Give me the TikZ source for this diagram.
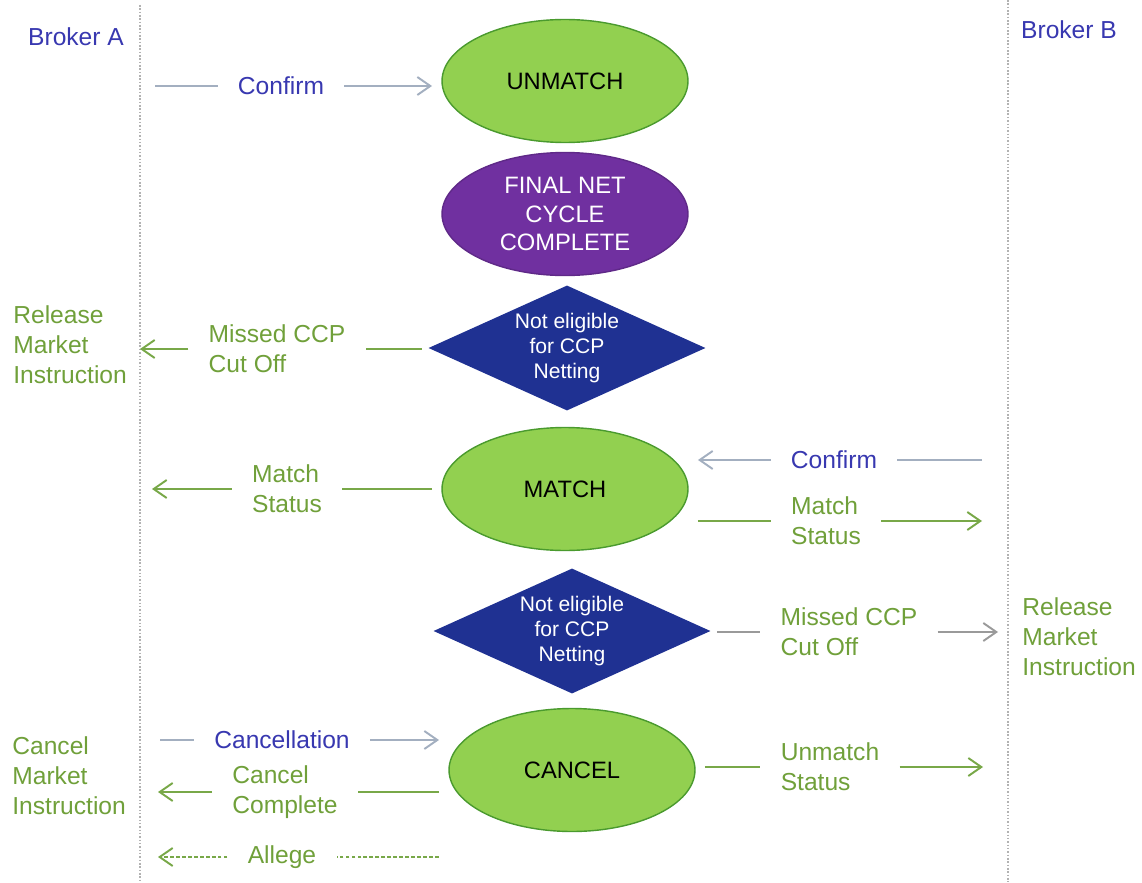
\documentclass[tikz,border=0pt]{standalone}
\usepackage{fontspec}
\setmainfont{Liberation Sans}
\usetikzlibrary{shapes.geometric,arrows.meta}
\definecolor{okgreen}{HTML}{92D050}
\definecolor{okborder}{HTML}{4A9A2E}
\definecolor{netpurple}{HTML}{7030A0}
\definecolor{ccpblue}{HTML}{1F3192}
\definecolor{msgblue}{HTML}{3838B0}
\definecolor{msggreen}{HTML}{70A03A}
\definecolor{linegreen}{HTML}{78A848}
\definecolor{lineblue}{HTML}{A3AFC0}
\definecolor{linegray}{HTML}{9A9A9A}
\tikzset{
  state/.style={ellipse, draw=okborder, fill=okgreen, line width=0.8pt, minimum width=4.92cm, minimum height=2.46cm, inner sep=0pt, outer sep=0.2cm, font=\fontsize{13.5}{16.2}\selectfont, align=center},
  ccp/.style={diamond, aspect=2.2, fill=ccpblue, text=white, minimum width=5.62cm, minimum height=2.58cm, inner sep=0pt, outer sep=0.1cm, font=\fontsize{12}{14}\selectfont, align=center},
  msg/.style={inner xsep=0.4cm, inner ysep=0pt, align=left, font=\fontsize{14}{17}\selectfont},
  side/.style={anchor=west, inner sep=0pt, align=left, text=msggreen, font=\fontsize{14}{17}\selectfont},
  bline/.style={draw=lineblue, line width=1.1pt},
  gline/.style={draw=linegreen, line width=1.1pt},
  grline/.style={draw=linegray, line width=1.1pt},
  sepline/.style={draw=gray!60, densely dotted, line width=0.9pt}
}
\begin{document}
\begin{tikzpicture}[x=0.02cm, y=-0.02cm, >={Straight Barb[length=2.6mm,width=3.6mm]}]
\useasboundingbox (0,0) rectangle (1142,882);
\draw[sepline] (140,5) -- (140,882);
\draw[sepline] (1008,0) -- (1008,882);
\node[msg, text=msgblue] (brokA) at (76,37) {Broker A};
\node[msg, text=msgblue] (brokB) at (1069,30) {Broker B};

\node[state] (unmatch) at (565,81) {UNMATCH};
\node[state, fill=netpurple, draw=netpurple!85!black, text=white] (netdone) at (565,214) {FINAL NET\\CYCLE\\COMPLETE};
\node[ccp] (noccpA) at (567,348) {Not eligible\\for CCP\\Netting};
\node[state] (match) at (565,489) {MATCH};
\node[ccp] (noccpB) at (572,631) {Not eligible\\for CCP\\Netting};
\node[state] (cancel) at (572,770) {CANCEL};

\node[side] (relA) at (13,345) {Release\\Market\\Instruction};
\node[side] (cxlA) at (12,776) {Cancel\\Market\\Instruction};
\node[side] (relB) at (1022,637) {Release\\Market\\Instruction};

\coordinate (cfA) at (155,86);
\node[msg, text=msgblue] (lConfA) at (281,86) {Confirm};
\draw[bline] (cfA) -- (lConfA.west);
\draw[bline,->] (lConfA.east) -- (lConfA -| unmatch.west);

\coordinate (cutA) at (140,349);
\node[msg, text=msggreen] (lMissA) at (277,349) {Missed CCP\\Cut Off};
\draw[gline] (noccpA.west |- lMissA) -- (lMissA.east);
\draw[gline,->] (lMissA.west) -- (cutA);

\coordinate (mtA) at (152,489);
\node[msg, text=msggreen] (lMatchA) at (287,489) {Match\\Status};
\draw[gline] (match.west) -- (lMatchA.east);
\draw[gline,->] (lMatchA.west) -- (mtA);

\coordinate (cfB) at (982,460);
\node[msg, text=msgblue] (lConfB) at (834,460) {Confirm};
\draw[bline] (cfB) -- (lConfB.east);
\draw[bline,->] (lConfB.west) -- (lConfB -| match.east);

\coordinate (mtB) at (982,521);
\node[msg, text=msggreen] (lMatchB) at (826,521) {Match\\Status};
\draw[gline] (lMatchB -| match.east) -- (lMatchB.west);
\draw[gline,->] (lMatchB.east) -- (mtB);

\coordinate (cutB) at (998,632);
\node[msg, text=msggreen] (lMissB) at (849,632) {Missed CCP\\Cut Off};
\draw[grline] (noccpB.east |- lMissB) -- (lMissB.west);
\draw[grline,->] (lMissB.east) -- (cutB);

\coordinate (cxA) at (160,740);
\node[msg, text=msgblue] (lCancelA) at (282,740) {Cancellation};
\draw[bline] (cxA) -- (lCancelA.west);
\draw[bline,->] (lCancelA.east) -- (lCancelA -| cancel.west);

\coordinate (ccA) at (158,792);
\node[msg, text=msggreen] (lDoneA) at (285,792) {Cancel\\Complete};
\draw[gline] (lDoneA -| cancel.west) -- (lDoneA.east);
\draw[gline,->] (lDoneA.west) -- (ccA);

\coordinate (alA) at (158,857);
\node[msg, text=msggreen] (lAllegeA) at (282,857) {Allege};
\draw[gline, dash pattern=on 2.2pt off 1.2pt] (lAllegeA -| cancel.west) -- (lAllegeA.east);
\draw[gline, dash pattern=on 2.2pt off 1.2pt,->] (lAllegeA.west) -- (alA);

\coordinate (umB) at (983,767);
\node[msg, text=msggreen] (lUnmB) at (830,767) {Unmatch\\Status};
\draw[gline] (lUnmB -| cancel.east) -- (lUnmB.west);
\draw[gline,->] (lUnmB.east) -- (umB);
\end{tikzpicture}
\end{document}
